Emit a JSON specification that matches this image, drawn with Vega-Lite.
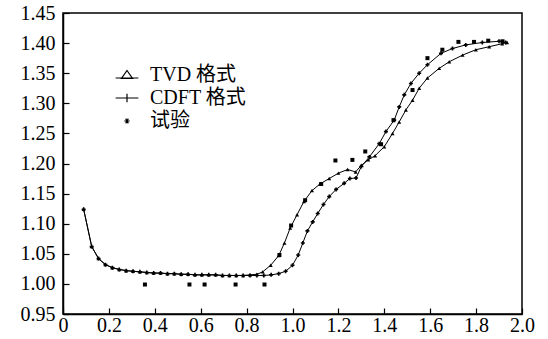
{
  "$schema": "https://vega.github.io/schema/vega-lite/v6.json",
  "width": 459,
  "height": 301,
  "autosize": "none",
  "padding": {"left": 63, "top": 13, "right": 26, "bottom": 25},
  "background": "white",
  "config": {
    "view": {"stroke": "black", "strokeWidth": 1.5},
    "axis": {
      "labelFont": "Liberation Serif",
      "labelFontSize": 20,
      "labelColor": "black",
      "domainColor": "black",
      "domainWidth": 1.5,
      "tickColor": "black",
      "tickWidth": 1.2,
      "tickSize": -6,
      "grid": false,
      "labelFlush": false,
      "labelOverlap": false
    }
  },
  "data": {
    "values": [
      {"series": "TVD 格式", "x": 0.09, "y": 1.124},
      {"series": "TVD 格式", "x": 0.125, "y": 1.062},
      {"series": "TVD 格式", "x": 0.155, "y": 1.042},
      {"series": "TVD 格式", "x": 0.185, "y": 1.032},
      {"series": "TVD 格式", "x": 0.215, "y": 1.027},
      {"series": "TVD 格式", "x": 0.245, "y": 1.024},
      {"series": "TVD 格式", "x": 0.275, "y": 1.022},
      {"series": "TVD 格式", "x": 0.305, "y": 1.021},
      {"series": "TVD 格式", "x": 0.335, "y": 1.02},
      {"series": "TVD 格式", "x": 0.365, "y": 1.019},
      {"series": "TVD 格式", "x": 0.395, "y": 1.018},
      {"series": "TVD 格式", "x": 0.425, "y": 1.018},
      {"series": "TVD 格式", "x": 0.455, "y": 1.017},
      {"series": "TVD 格式", "x": 0.485, "y": 1.017},
      {"series": "TVD 格式", "x": 0.515, "y": 1.016},
      {"series": "TVD 格式", "x": 0.545, "y": 1.016},
      {"series": "TVD 格式", "x": 0.575, "y": 1.015},
      {"series": "TVD 格式", "x": 0.605, "y": 1.015},
      {"series": "TVD 格式", "x": 0.635, "y": 1.015},
      {"series": "TVD 格式", "x": 0.665, "y": 1.015},
      {"series": "TVD 格式", "x": 0.695, "y": 1.014},
      {"series": "TVD 格式", "x": 0.725, "y": 1.014},
      {"series": "TVD 格式", "x": 0.755, "y": 1.014},
      {"series": "TVD 格式", "x": 0.785, "y": 1.014},
      {"series": "TVD 格式", "x": 0.815, "y": 1.015},
      {"series": "TVD 格式", "x": 0.845, "y": 1.016},
      {"series": "TVD 格式", "x": 0.87, "y": 1.02},
      {"series": "TVD 格式", "x": 0.905, "y": 1.031},
      {"series": "TVD 格式", "x": 0.94, "y": 1.047},
      {"series": "TVD 格式", "x": 0.965, "y": 1.068},
      {"series": "TVD 格式", "x": 0.99, "y": 1.093},
      {"series": "TVD 格式", "x": 1.02, "y": 1.115},
      {"series": "TVD 格式", "x": 1.05, "y": 1.137},
      {"series": "TVD 格式", "x": 1.085, "y": 1.155},
      {"series": "TVD 格式", "x": 1.12, "y": 1.166},
      {"series": "TVD 格式", "x": 1.16, "y": 1.175},
      {"series": "TVD 格式", "x": 1.2, "y": 1.184},
      {"series": "TVD 格式", "x": 1.24, "y": 1.19},
      {"series": "TVD 格式", "x": 1.275, "y": 1.186},
      {"series": "TVD 格式", "x": 1.3, "y": 1.197},
      {"series": "TVD 格式", "x": 1.33, "y": 1.206},
      {"series": "TVD 格式", "x": 1.36, "y": 1.213},
      {"series": "TVD 格式", "x": 1.4, "y": 1.228},
      {"series": "TVD 格式", "x": 1.436, "y": 1.25},
      {"series": "TVD 格式", "x": 1.465, "y": 1.269},
      {"series": "TVD 格式", "x": 1.494, "y": 1.289},
      {"series": "TVD 格式", "x": 1.523, "y": 1.305},
      {"series": "TVD 格式", "x": 1.552, "y": 1.325},
      {"series": "TVD 格式", "x": 1.588, "y": 1.342},
      {"series": "TVD 格式", "x": 1.639, "y": 1.358},
      {"series": "TVD 格式", "x": 1.683, "y": 1.369},
      {"series": "TVD 格式", "x": 1.741, "y": 1.38},
      {"series": "TVD 格式", "x": 1.799, "y": 1.389},
      {"series": "TVD 格式", "x": 1.857, "y": 1.394},
      {"series": "TVD 格式", "x": 1.914, "y": 1.399},
      {"series": "TVD 格式", "x": 1.935, "y": 1.401},
      {"series": "CDFT 格式", "x": 0.09, "y": 1.124},
      {"series": "CDFT 格式", "x": 0.125, "y": 1.062},
      {"series": "CDFT 格式", "x": 0.155, "y": 1.042},
      {"series": "CDFT 格式", "x": 0.185, "y": 1.032},
      {"series": "CDFT 格式", "x": 0.215, "y": 1.027},
      {"series": "CDFT 格式", "x": 0.245, "y": 1.024},
      {"series": "CDFT 格式", "x": 0.275, "y": 1.022},
      {"series": "CDFT 格式", "x": 0.305, "y": 1.021},
      {"series": "CDFT 格式", "x": 0.335, "y": 1.02},
      {"series": "CDFT 格式", "x": 0.365, "y": 1.019},
      {"series": "CDFT 格式", "x": 0.395, "y": 1.018},
      {"series": "CDFT 格式", "x": 0.425, "y": 1.018},
      {"series": "CDFT 格式", "x": 0.455, "y": 1.017},
      {"series": "CDFT 格式", "x": 0.485, "y": 1.017},
      {"series": "CDFT 格式", "x": 0.515, "y": 1.016},
      {"series": "CDFT 格式", "x": 0.545, "y": 1.016},
      {"series": "CDFT 格式", "x": 0.575, "y": 1.015},
      {"series": "CDFT 格式", "x": 0.605, "y": 1.015},
      {"series": "CDFT 格式", "x": 0.635, "y": 1.015},
      {"series": "CDFT 格式", "x": 0.665, "y": 1.015},
      {"series": "CDFT 格式", "x": 0.695, "y": 1.014},
      {"series": "CDFT 格式", "x": 0.725, "y": 1.014},
      {"series": "CDFT 格式", "x": 0.755, "y": 1.014},
      {"series": "CDFT 格式", "x": 0.785, "y": 1.014},
      {"series": "CDFT 格式", "x": 0.815, "y": 1.014},
      {"series": "CDFT 格式", "x": 0.845, "y": 1.014},
      {"series": "CDFT 格式", "x": 0.875, "y": 1.014},
      {"series": "CDFT 格式", "x": 0.907, "y": 1.015},
      {"series": "CDFT 格式", "x": 0.94, "y": 1.017},
      {"series": "CDFT 格式", "x": 0.97, "y": 1.021},
      {"series": "CDFT 格式", "x": 1.0, "y": 1.031},
      {"series": "CDFT 格式", "x": 1.025, "y": 1.048},
      {"series": "CDFT 格式", "x": 1.045, "y": 1.068},
      {"series": "CDFT 格式", "x": 1.065, "y": 1.088},
      {"series": "CDFT 格式", "x": 1.088, "y": 1.103},
      {"series": "CDFT 格式", "x": 1.11, "y": 1.117},
      {"series": "CDFT 格式", "x": 1.135, "y": 1.132},
      {"series": "CDFT 格式", "x": 1.16, "y": 1.145},
      {"series": "CDFT 格式", "x": 1.19, "y": 1.157},
      {"series": "CDFT 格式", "x": 1.225, "y": 1.167},
      {"series": "CDFT 格式", "x": 1.25, "y": 1.175},
      {"series": "CDFT 格式", "x": 1.277, "y": 1.176},
      {"series": "CDFT 格式", "x": 1.3, "y": 1.195},
      {"series": "CDFT 格式", "x": 1.335, "y": 1.211},
      {"series": "CDFT 格式", "x": 1.378, "y": 1.233},
      {"series": "CDFT 格式", "x": 1.407, "y": 1.253},
      {"series": "CDFT 格式", "x": 1.443, "y": 1.272},
      {"series": "CDFT 格式", "x": 1.465, "y": 1.294},
      {"series": "CDFT 格式", "x": 1.487, "y": 1.314},
      {"series": "CDFT 格式", "x": 1.516, "y": 1.333},
      {"series": "CDFT 格式", "x": 1.552, "y": 1.35},
      {"series": "CDFT 格式", "x": 1.588, "y": 1.364},
      {"series": "CDFT 格式", "x": 1.647, "y": 1.383},
      {"series": "CDFT 格式", "x": 1.697, "y": 1.391},
      {"series": "CDFT 格式", "x": 1.755, "y": 1.397},
      {"series": "CDFT 格式", "x": 1.827, "y": 1.401},
      {"series": "CDFT 格式", "x": 1.9, "y": 1.403},
      {"series": "CDFT 格式", "x": 1.929, "y": 1.401},
      {"series": "试验", "x": 0.357, "y": 0.999},
      {"series": "试验", "x": 0.551, "y": 0.999},
      {"series": "试验", "x": 0.617, "y": 0.999},
      {"series": "试验", "x": 0.752, "y": 0.999},
      {"series": "试验", "x": 0.878, "y": 0.999},
      {"series": "试验", "x": 0.943, "y": 1.048},
      {"series": "试验", "x": 0.994, "y": 1.097},
      {"series": "试验", "x": 1.055, "y": 1.139},
      {"series": "试验", "x": 1.125, "y": 1.166},
      {"series": "试验", "x": 1.187, "y": 1.205},
      {"series": "试验", "x": 1.261, "y": 1.206},
      {"series": "试验", "x": 1.317, "y": 1.22},
      {"series": "试验", "x": 1.386, "y": 1.232},
      {"series": "试验", "x": 1.44, "y": 1.272},
      {"series": "试验", "x": 1.523, "y": 1.322},
      {"series": "试验", "x": 1.588, "y": 1.375},
      {"series": "试验", "x": 1.653, "y": 1.389},
      {"series": "试验", "x": 1.723, "y": 1.402},
      {"series": "试验", "x": 1.791, "y": 1.402},
      {"series": "试验", "x": 1.853, "y": 1.404},
      {"series": "试验", "x": 1.915, "y": 1.403}
    ]
  },
  "encoding": {
    "x": {
      "field": "x",
      "type": "quantitative",
      "scale": {"domain": [0, 2], "nice": false, "zero": false},
      "axis": {
        "title": null,
        "values": [0, 0.2, 0.4, 0.6, 0.8, 1.0, 1.2, 1.4, 1.6, 1.8, 2.0],
        "labelExpr": "datum.value == 0 ? '0' : format(datum.value, '.1f')",
        "labelPadding": 7
      }
    },
    "y": {
      "field": "y",
      "type": "quantitative",
      "scale": {"domain": [0.95, 1.45], "nice": false, "zero": false},
      "axis": {
        "title": null,
        "values": [0.95, 1.0, 1.05, 1.1, 1.15, 1.2, 1.25, 1.3, 1.35, 1.4, 1.45],
        "format": ".2f",
        "labelPadding": 14
      }
    }
  },
  "resolve": {"scale": {"shape": "independent"}, "legend": {"shape": "independent"}},
  "layer": [
    {
      "transform": [{"filter": "datum.series !== '试验'"}],
      "mark": {"type": "line", "color": "black", "strokeWidth": 1},
      "encoding": {"detail": {"field": "series", "type": "nominal"}}
    },
    {
      "mark": {"type": "point", "filled": true, "color": "black", "opacity": 1},
      "encoding": {
        "shape": {
          "field": "series",
          "type": "nominal",
          "scale": {
            "domain": ["TVD 格式", "CDFT 格式", "试验"],
            "range": ["triangle-up", "cross", "square"]
          },
          "legend": null
        },
        "size": {"value": 16}
      }
    },
    {
      "mark": {"type": "point", "filled": false, "color": "black", "strokeWidth": 1.2, "opacity": 0},
      "encoding": {
        "shape": {
          "field": "series",
          "type": "nominal",
          "scale": {
            "domain": ["TVD 格式", "CDFT 格式", "试验"],
            "range": [
              "M-1.9,0.5H1.9M0,-0.75L0.92,0.58L-0.92,0.58Z",
              "M-1.9,0H1.9M0,-0.7V0.7",
              "M-0.45,0H0.45M-0.22,-0.4L0.22,0.4M-0.22,0.4L0.22,-0.4"
            ]
          },
          "legend": {
            "title": null,
            "orient": "none",
            "legendX": 54,
            "legendY": 52,
            "padding": 0,
            "symbolSize": 144,
            "symbolOpacity": 1,
            "symbolStrokeColor": "black",
            "symbolFillColor": "transparent",
            "symbolStrokeWidth": 1.2,
            "labelOffset": 13,
            "labelFont": "Liberation Serif, Noto Sans CJK SC",
            "labelFontSize": 20,
            "labelColor": "black",
            "rowPadding": 3
          }
        },
        "size": {"value": 16}
      }
    }
  ]
}
